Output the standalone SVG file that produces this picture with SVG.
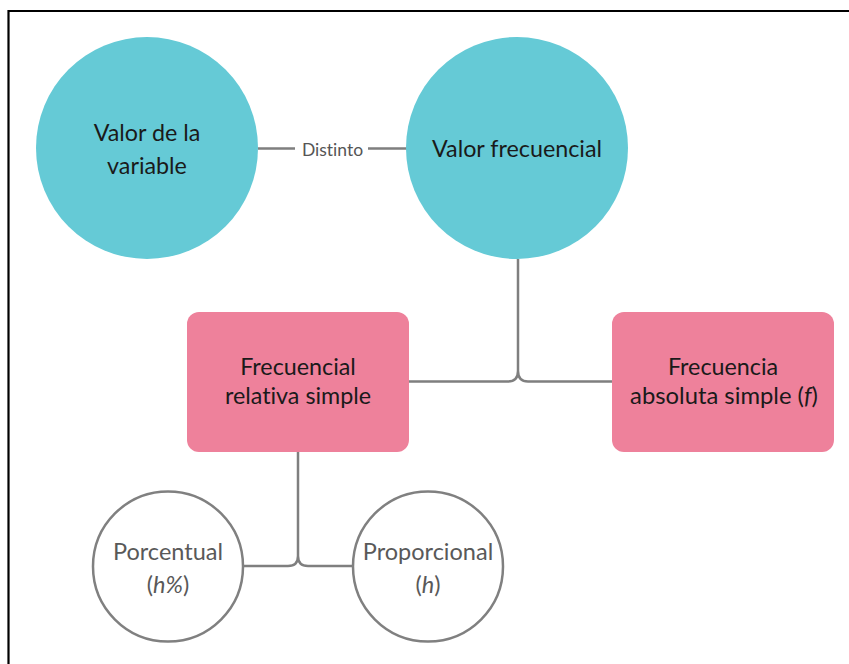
<svg xmlns="http://www.w3.org/2000/svg" width="849" height="664" viewBox="0 0 849 664">
<style>
.teal{fill:#65CAD6;}
.pink{fill:#EE819B;}
.outline{fill:#ffffff;stroke:#808080;stroke-width:2.5;}
.conn{fill:none;stroke:#7f7f7f;stroke-width:2.5;}
text{font-family:Lato,"Liberation Sans",sans-serif;font-variant-ligatures:none;font-feature-settings:"liga" 0;text-anchor:middle;}
.dark{font-size:23.3px;fill:#1a1a1a;}
.grey{font-size:23.5px;fill:#595959;}
.lbl{font-size:17.5px;fill:#555555;}
</style>
<rect width="849" height="664" fill="#ffffff"/>
<path d="M8.5,664 V11 H849" fill="none" stroke="#000000" stroke-width="2.2"/>
<g id="connectors">
<path class="conn" d="M258,148.5 H295 M368,148.5 H407"/>
<text class="lbl" x="332.5" y="155.5">Distinto</text>
<path class="conn" d="M518,259 V371 Q518,381.5 508,381.5 H409 M518,371 Q518,381.5 528,381.5 H612"/>
<path class="conn" d="M298,452 V556 Q298,566 288,566 H244 M298,556 Q298,566 308,566 H352.5"/>
</g>
<g id="node-valor-variable">
<circle class="teal" cx="147" cy="148" r="111"/>
<text class="dark" x="147" y="140.5">Valor de la</text>
<text class="dark" x="147" y="174">variable</text>
</g>
<g id="node-valor-frecuencial">
<circle class="teal" cx="517" cy="148" r="111"/>
<text class="dark" x="517" y="157">Valor frecuencial</text>
</g>
<g id="node-relativa">
<rect class="pink" x="187" y="312" width="222" height="140" rx="12"/>
<text class="dark" x="298" y="374.5">Frecuencial</text>
<text class="dark" x="298" y="403.5">relativa simple</text>
</g>
<g id="node-absoluta">
<rect class="pink" x="612" y="312" width="222" height="140" rx="12"/>
<text class="dark" x="723" y="374.5">Frecuencia</text>
<text class="dark" x="724" y="403.5" style="font-size:23.8px">absoluta simple (<tspan font-style="italic">f</tspan>)</text>
</g>
<g id="node-porcentual">
<circle class="outline" cx="168" cy="566.5" r="75"/>
<text class="grey" x="168" y="559.5">Porcentual</text>
<text class="grey" x="168" y="593">(<tspan font-style="italic">h%</tspan>)</text>
</g>
<g id="node-proporcional">
<circle class="outline" cx="428" cy="566.5" r="75"/>
<text class="grey" x="428" y="559.5">Proporcional</text>
<text class="grey" x="428" y="593">(<tspan font-style="italic">h</tspan>)</text>
</g>
</svg>
